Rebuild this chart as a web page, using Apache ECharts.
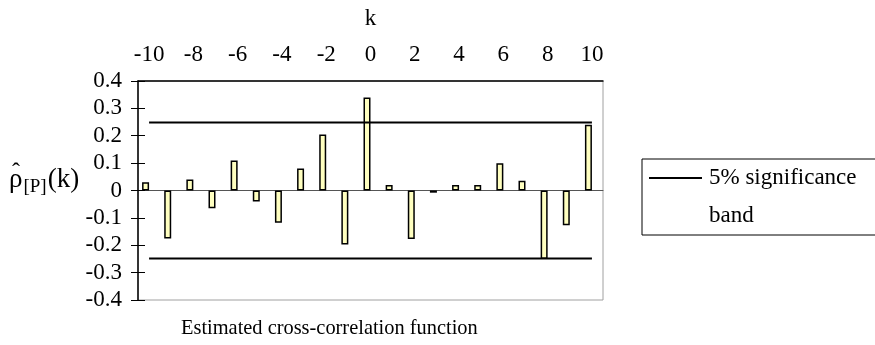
<!DOCTYPE html>
<html>
<head>
<meta charset="utf-8">
<script src="https://cdn.jsdelivr.net/npm/echarts@6/dist/echarts.min.js"></script>
<style>
    html, body { margin: 0; padding: 0; background: #ffffff; }
    #chart { width: 875px; height: 345px; }
</style>
</head>
<body>
<div id="chart"></div>
<script>
const lags = ["-10", "-9", "-8", "-7", "-6", "-5", "-4", "-3", "-2", "-1", "0",
    "1", "2", "3", "4", "5", "6", "7", "8", "9", "10"];

const correlations = [0.03, -0.175, 0.04, -0.065, 0.11, -0.04, -0.118, 0.08, 0.205, -0.197, 0.34,
    0.02, -0.177, -0.008, 0.02, 0.02, 0.10, 0.036, -0.25, -0.127, 0.24];

const bandLags = ["-10", "10"];
const bandUpper = [0.248, 0.248];
const bandLower = [-0.248, -0.248];

const yTicks = ["-0.4", "-0.3", "-0.2", "-0.1", "0", "0.1", "0.2", "0.3", "0.4"];

const FONT = "Liberation Serif";

const chart = echarts.init(document.getElementById("chart"));

chart.setOption({
    animation: false,
    textStyle: {
        fontFamily: FONT
    },
    title: {
        text: "Estimated cross-correlation function",
        left: 181,
        top: 319,
        padding: 0,
        textStyle: {
            fontFamily: FONT,
            fontWeight: "normal",
            fontSize: 20.4,
            color: "#000000"
        }
    },
    grid: {
        left: 138,
        top: 81,
        width: 465,
        height: 219,
        outerBoundsMode: "none",
        containLabel: false,
        show: true,
        borderColor: "#a0a0a0",
        borderWidth: 1,
        backgroundColor: "#ffffff"
    },
    legend: {
        data: ["5% significance band"],
        left: 642,
        top: 159,
        orient: "vertical",
        borderColor: "#000000",
        borderWidth: 1,
        padding: [0, 40, 0, 7],
        itemWidth: 53,
        itemHeight: 40,
        itemGap: 0,
        icon: "path://M0,0H53V2H0Z M0,40H0.01V40.01H0Z",
        formatter: () => "5% significance\nband",
        textStyle: {
            fontFamily: FONT,
            fontSize: 23,
            color: "#000000",
            lineHeight: 38,
            padding: [0, 0, 0, 2]
        }
    },
    graphic: [
        {
            type: "text",
            left: 9,
            top: 166,
            style: {
                text: "{r|ρ}{s|[P]}{r|(k)}",
                rich: {
                    r: {
                        fontFamily: FONT,
                        fontSize: 27,
                        fill: "#000000"
                    },
                    s: {
                        fontFamily: FONT,
                        fontSize: 19,
                        fill: "#000000",
                        padding: [16, 1, 0, 1]
                    }
                }
            }
        },
        {
            type: "text",
            left: 12,
            top: 161,
            style: {
                text: "ˆ",
                fontFamily: FONT,
                fontSize: 24,
                fill: "#000000"
            }
        }
    ],
    xAxis: [
        {
            type: "category",
            data: lags,
            position: "top",
            name: "k",
            nameLocation: "middle",
            nameGap: 51,
            nameMoveOverlap: false,
            nameTextStyle: {
                fontFamily: FONT,
                fontSize: 23,
                color: "#000000"
            },
            axisLine: {
                onZero: false,
                lineStyle: { color: "#000000", width: 1.5 }
            },
            axisTick: {
                length: 5,
                lineStyle: { color: "#000000", width: 1 }
            },
            axisLabel: {
                interval: 1,
                margin: 15,
                fontFamily: FONT,
                fontSize: 23,
                color: "#000000"
            },
            splitLine: { show: false }
        },
        {
            type: "category",
            data: lags,
            position: "top",
            axisLine: { show: false, onZero: false },
            axisTick: {
                inside: true,
                length: 5,
                lineStyle: { color: "#000000", width: 1 }
            },
            axisLabel: { show: false },
            splitLine: { show: false }
        },
        {
            type: "category",
            data: lags,
            position: "bottom",
            axisLine: {
                onZero: true,
                lineStyle: { color: "#555555", width: 1 }
            },
            axisTick: { show: false },
            axisLabel: { show: false },
            splitLine: { show: false }
        }
    ],
    yAxis: [
        {
            type: "value",
            position: "left",
            min: -0.4,
            max: 0.4,
            interval: 0.1,
            axisLine: {
                show: true,
                onZero: false,
                lineStyle: { color: "#000000", width: 1.5 }
            },
            axisTick: {
                show: true,
                length: 7,
                lineStyle: { color: "#000000", width: 1 }
            },
            axisLabel: {
                margin: 16,
                fontFamily: FONT,
                fontSize: 23,
                color: "#000000",
                formatter: value => yTicks[Math.round((value + 0.4) * 10)]
            },
            splitLine: { show: false }
        },
        {
            type: "value",
            position: "left",
            min: -0.4,
            max: 0.4,
            interval: 0.1,
            axisLine: { show: false, onZero: false },
            axisTick: {
                show: true,
                inside: true,
                length: 7,
                lineStyle: { color: "#000000", width: 1 }
            },
            axisLabel: { show: false },
            splitLine: { show: false }
        }
    ],
    series: [
        {
            name: "cross-correlation",
            type: "bar",
            xAxisIndex: 0,
            yAxisIndex: 0,
            data: correlations,
            barWidth: 7,
            barGap: "0%",
            itemStyle: {
                color: "#ffffc0",
                borderColor: "#000000",
                borderWidth: 1.5
            },
            z: 2
        },
        {
            name: "spacer",
            type: "bar",
            xAxisIndex: 0,
            yAxisIndex: 0,
            data: [],
            barWidth: 7,
            barGap: "0%"
        },
        {
            name: "5% significance band",
            type: "line",
            xAxisIndex: 0,
            yAxisIndex: 0,
            data: bandLags.map((k, i) => [k, bandUpper[i]]),
            showSymbol: false,
            symbol: "none",
            lineStyle: { color: "#000000", width: 2 },
            itemStyle: { color: "#000000" },
            z: 3
        },
        {
            name: "5% significance band",
            type: "line",
            xAxisIndex: 0,
            yAxisIndex: 0,
            data: bandLags.map((k, i) => [k, bandLower[i]]),
            showSymbol: false,
            symbol: "none",
            lineStyle: { color: "#000000", width: 2 },
            itemStyle: { color: "#000000" },
            z: 3
        }
    ]
});
</script>
</body>
</html>
